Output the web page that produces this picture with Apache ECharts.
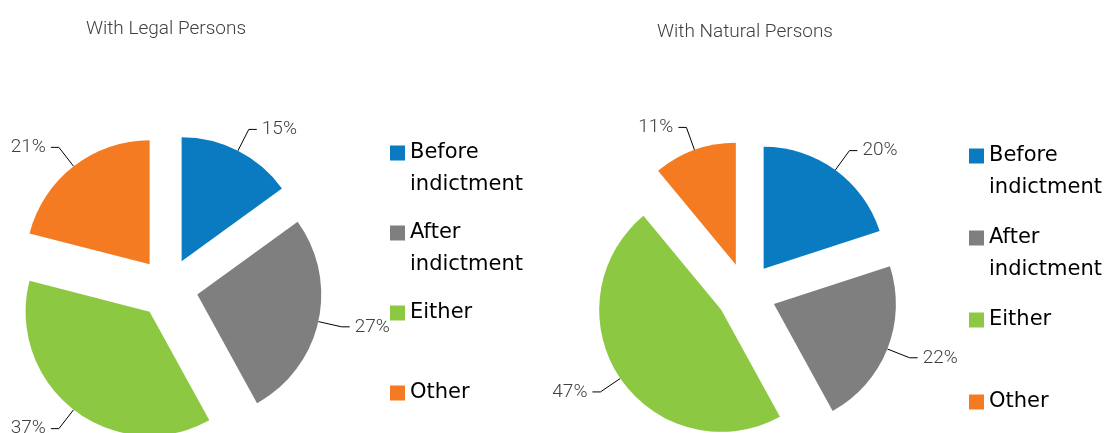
<!DOCTYPE html>
<html>
<head>
<meta charset="utf-8">
<script src="https://cdn.jsdelivr.net/npm/echarts@6/dist/echarts.min.js"></script>
<style>
  html, body { margin: 0; padding: 0; background: #fff; }
  #main { width: 1106px; height: 433px; }
</style>
</head>
<body>
<div id="main"></div>
<script>
// categories and values (percent)
const categories    = ["Before\nindictment", "After\nindictment", "Either", "Other"];
const legalValues   = [15, 27, 37, 21];
const naturalValues = [20, 22, 47, 11];
const titles        = ["With Legal Persons", "With Natural Persons"];
const colors        = ["#0A7BC1", "#7F7F7F", "#8DC843", "#F47B22"];

const myChart = echarts.init(document.getElementById('main'));

// every slice is pulled out of the pie
function toData(values){
    return categories.map((name, i) => ({ name: name, value: values[i], selected: true }));
}

function pieSeries(values, center, radius){
    return {
        type: "pie",
        center: center,
        radius: radius,
        startAngle: 90,
        clockwise: true,
        selectedMode: "multiple",
        selectedOffset: 30,
        animation: false,
        silent: true,
        data: toData(values),
        label: {
            show: true,
            position: "outside",
            formatter: "{c}%",
            fontFamily: "Roboto",
            fontWeight: 300,
            fontSize: 19,
            color: "#404040"
        },
        labelLine: {
            show: true,
            length: 24,
            length2: 8,
            lineStyle: { color: "#000", width: 1 }
        },
        emphasis: { disabled: true },
        select: { itemStyle: { borderWidth: 0 } }
    };
}

// legend text is centred on the icon, so pad every item to 3 lines
// with the name starting on the middle one (icon sits next to the 1st text line)
function legendText(name){
    let lines = name.split("\n");
    if (lines.length < 2) lines.push("\u00a0");
    return "\u00a0\n" + lines.join("\n");
}

function legendAt(left, top, itemGap){
    return {
        orient: "vertical",
        left: left,
        top: top,
        height: 420,
        itemWidth: 15,
        itemHeight: 15,
        itemGap: itemGap,
        icon: "rect",
        selectedMode: false,
        data: categories,
        formatter: legendText,
        textStyle: {
            fontFamily: "DejaVu Sans",
            fontSize: 21,
            lineHeight: 32,
            color: "#000"
        }
    };
}

myChart.setOption({
    color: colors,
    animation: false,
    title: [
        {
            text: titles[0],
            left: 166,
            top: 20,
            textAlign: "center",
            padding: 0,
            textStyle: { fontFamily: "Roboto", fontWeight: 300, fontSize: 19, color: "#404040" }
        },
        {
            text: titles[1],
            left: 745,
            top: 23,
            textAlign: "center",
            padding: 0,
            textStyle: { fontFamily: "Roboto", fontWeight: 300, fontSize: 19, color: "#404040" }
        }
    ],
    legend: [
        legendAt(385, 100, -16),
        legendAt(964, 103, -14),
    ],
    series: [
        pieSeries(legalValues, [168, 288], 124),
        pieSeries(naturalValues, [746, 293], 122)
    ]
});
</script>
</body>
</html>
